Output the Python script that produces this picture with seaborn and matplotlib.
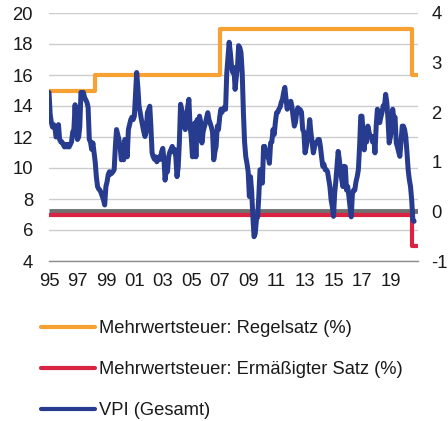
# Mehrwertsteuer und VPI
import pandas as pd
import matplotlib
matplotlib.use("Agg")
import matplotlib.pyplot as plt
import matplotlib.transforms as mtransforms
import seaborn as sns

# VAT step series (change dates)
regel_dates = ["1995-01-01", "1998-04-01", "2007-01-01", "2020-07-01", "2020-12-01"]
regel_vals = [15, 16, 19, 16, 16]

erm_dates = ["1995-01-01", "2020-07-01", "2020-12-01"]
erm_vals = [7, 5, 5]

# VPI, monthly change vs. previous year (%), Jan 1995 - Sep 2020
vpi = [
    2.4, 1.95, 1.8, 1.7, 1.75, 1.7, 1.5, 1.55, 1.75, 1.45, 1.4, 1.4,      # 1995
    1.35, 1.3, 1.35, 1.3, 1.35, 1.3, 1.35, 1.4, 1.6, 1.65, 2.15, 1.6,     # 1996
    1.45, 1.5, 1.7, 2.4, 2.35, 2.4, 2.3, 2.25, 2.2, 2.1, 1.45, 1.4,       # 1997
    1.25, 1.38, 1.2, 1.0, 0.7, 0.5, 0.45, 0.43, 0.37, 0.3, 0.23, 0.13,    # 1998
    0.5, 0.6, 0.74, 0.8, 0.75, 0.77, 0.8, 0.84, 1.31, 1.65, 1.55, 1.45,   # 1999
    1.3, 1.04, 1.1, 1.04, 1.45, 1.35, 1.1, 1.65, 1.75, 1.85, 1.9, 1.85,   # 2000
    1.92, 2.4, 2.8, 2.5, 2.12, 1.99, 1.85, 1.72, 1.6, 1.51, 1.6, 1.99,    # 2001
    2.05, 2.12, 1.72, 1.18, 1.1, 1.05, 1.1, 1.0, 1.05, 1.1, 1.05, 1.2,    # 2002
    1.27, 1.04, 0.63, 0.84, 0.8, 1.1, 1.2, 1.25, 1.31, 1.2, 1.25, 1.1,    # 2003
    0.7, 0.9, 1.38, 2.16, 2.06, 1.9, 1.72, 1.65, 1.9, 2.1, 2.26, 1.72,    # 2004
    1.5, 1.1, 1.5, 1.78, 1.1, 1.85, 1.7, 1.92, 1.8, 1.38, 1.6, 1.7,       # 2005
    1.78, 1.9, 1.99, 1.85, 1.78, 1.7, 1.6, 1.04, 1.2, 1.31, 1.72, 1.65,   # 2006
    1.9, 2.06, 2.0, 2.05, 2.1, 2.06, 2.78, 3.1, 3.41, 3.2, 2.93, 2.8,     # 2007
    2.9, 2.46, 2.7, 2.9, 3.34, 3.3, 3.2, 2.8, 1.99, 1.4, 1.1, 0.97,       # 2008
    0.8, 0.3, 0.7, 0.4, -0.1, -0.51, -0.45, -0.17, -0.11, 0.3, 0.84, 0.84,  # 2009
    0.57, 1.31, 1.31, 1.2, 1.1, 1.11, 0.97, 1.38, 1.4, 1.65, 1.55, 1.8,   # 2010
    1.99, 2.0, 2.06, 2.1, 2.2, 2.26, 2.4, 2.5, 2.26, 2.06, 2.2, 2.1,      # 2011
    2.22, 2.1, 1.9, 1.72, 1.8, 2.0, 2.09, 2.0, 2.05, 2.0, 1.65, 1.6,      # 2012
    1.18, 1.3, 1.45, 1.6, 1.85, 1.58, 1.4, 1.18, 1.3, 1.38, 1.4, 1.45,    # 2013
    1.45, 1.3, 1.1, 0.91, 0.95, 0.84, 0.84, 0.8, 0.64, 0.5, 0.23, 0.1,    # 2014
    -0.1, 0.37, 0.6, 0.9, 1.21, 1.04, 0.8, 0.64, 0.5, 0.91, 0.9, 0.43,    # 2015
    0.5, 0.3, 0.09, -0.11, 0.36, 0.43, 0.43, 0.6, 0.7, 0.84, 1.31, 1.92,  # 2016
    1.92, 1.58, 1.24, 1.65, 1.4, 1.72, 1.6, 1.51, 1.51, 1.4, 1.5, 1.18,   # 2017
    1.72, 2.06, 2.0, 1.79, 1.9, 2.0, 2.13, 2.1, 2.36, 2.2, 1.85, 1.38,    # 2018
    1.5, 1.7, 2.06, 1.85, 1.9, 1.38, 1.3, 1.2, 1.11, 1.4, 1.72, 1.72,     # 2019
    1.65, 1.5, 1.2, 0.84, 0.64, 0.5, 0.23, -0.18, -0.2,                   # 2020
]
vpi_dates = pd.date_range("1995-01-01", periods=len(vpi), freq="MS")

tick_years = list(range(1995, 2020, 2))

labels = ["Mehrwertsteuer: Regelsatz (%)",
          "Mehrwertsteuer: Ermäßigter Satz (%)",
          "VPI (Gesamt)"]

c_orange = "#F7A133"
c_red = "#DA2342"
c_blue = "#283C8F"
c_grid = "#CCCCCC"
c_zero = "#707070"
c_text = "#1a1a1a"

sns.set_style("white")
plt.rcParams["font.family"] = ["Liberation Sans", "DejaVu Sans"]
plt.rcParams["axes.unicode_minus"] = False

fig = plt.figure(figsize=(4.48, 4.21), dpi=100)
ax = fig.add_axes([49 / 448, 1 - 261 / 421, 369 / 448, 248 / 421])
ax2 = ax.twinx()

# left axis: VAT
ax.set_ylim(4, 20)
ax.set_yticks(range(4, 21, 2))
ax.set_xlim(pd.Timestamp("1995-01-01"), pd.Timestamp("2020-12-10"))
ax.grid(axis="y", color=c_grid, lw=1)
ax.grid(axis="x", visible=False)

# right axis: VPI
ax2.set_ylim(-1, 4)
ax2.set_yticks(range(-1, 5))
ax2.grid(False)

# zero line of the right axis, drawn inside ax so the VAT lines cover it
trans = mtransforms.blended_transform_factory(ax.transAxes, ax2.transData)
ax.plot([0, 1], [0, 0], color=c_zero, lw=3.5, transform=trans, zorder=2,
        solid_capstyle="butt")

sns.lineplot(x=pd.to_datetime(regel_dates), y=regel_vals, ax=ax, color=c_orange,
             lw=3, drawstyle="steps-post", zorder=3, label=labels[0])
sns.lineplot(x=pd.to_datetime(erm_dates), y=erm_vals, ax=ax, color=c_red,
             lw=3, drawstyle="steps-post", zorder=3, label=labels[1])
sns.lineplot(x=vpi_dates, y=vpi, ax=ax2, color=c_blue, lw=3.6, zorder=4,
             label=labels[2])

for a in (ax, ax2):
    for s in a.spines.values():
        s.set_visible(False)
    if a.get_legend() is not None:
        a.get_legend().remove()
    a.set_xlabel("")
    a.set_ylabel("")

ax.spines["bottom"].set_visible(True)
ax.spines["bottom"].set_color("#8C8C8C")
ax.spines["bottom"].set_linewidth(1)

ax.set_xticks(pd.to_datetime([f"{y}-01-01" for y in tick_years]))
ax.set_xticklabels([f"{y % 100:02d}" for y in tick_years])
ax.tick_params(axis="x", length=0, pad=9, labelsize=13.3, colors=c_text)
ax.tick_params(axis="y", length=0, pad=11.5, labelsize=13.3, colors=c_text)
ax2.tick_params(axis="y", length=0, pad=9.5, labelsize=13.3, colors=c_text,
                labelrotation=0)

h1, l1 = ax.get_legend_handles_labels()
h2, l2 = ax2.get_legend_handles_labels()
leg = fig.legend(h1[-2:] + h2, labels, loc="upper left",
                 bbox_to_anchor=(34 / 448, 1 - 313 / 421), frameon=False,
                 fontsize=13.2, handlelength=2.95, handletextpad=0.22,
                 labelspacing=1.31, borderaxespad=0, labelcolor=c_text)
for line in leg.get_lines():
    line.set_linewidth(3)

fig.savefig("out.png", dpi=100)
